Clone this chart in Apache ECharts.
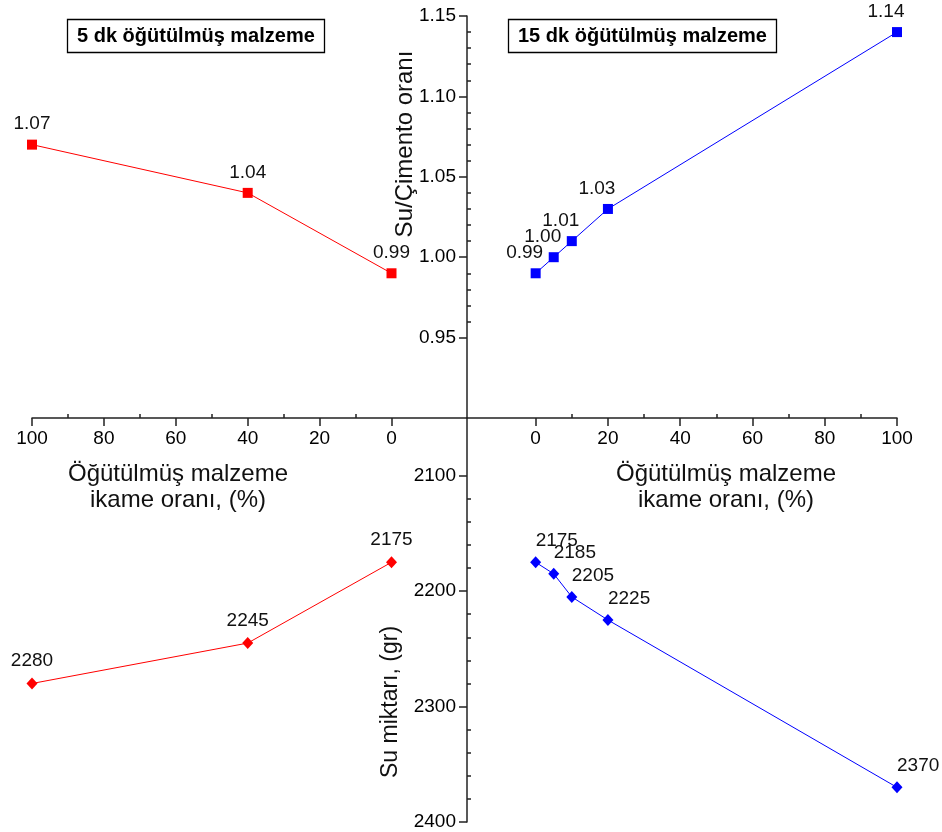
<!DOCTYPE html>
<html><head><meta charset="utf-8">
<script src="https://cdn.jsdelivr.net/npm/echarts@6/dist/echarts.min.js"></script>
<style>html,body{margin:0;padding:0;background:#fff}#c{width:942px;height:832px}</style>
</head><body><div id="c"></div>
<script>
// ---- data ----
const xTicks = [0, 20, 40, 60, 80, 100];
const xMinorTicks = [10, 30, 50, 70, 90];
const ratioTicks = [0.95, 1.00, 1.05, 1.10, 1.15];
const ratioMinorTicks = [0.96, 0.97, 0.98, 0.99, 1.01, 1.02, 1.03, 1.04, 1.06, 1.07, 1.08, 1.09, 1.11, 1.12, 1.13, 1.14];
const waterTicks = [2100, 2200, 2300, 2400];
const waterMinorTicks = [2120, 2140, 2160, 2180, 2220, 2240, 2260, 2280, 2320, 2340, 2360, 2380];

const x5 = [100, 40, 0];
const ratio5 = [1.07, 1.04, 0.99];
const water5 = [2280, 2245, 2175];

const x15 = [0, 5, 10, 20, 100];
const ratio15 = [0.99, 1.00, 1.01, 1.03, 1.14];
const water15 = [2175, 2185, 2205, 2225, 2370];

const title5 = '5 dk öğütülmüş malzeme';
const title15 = '15 dk öğütülmüş malzeme';
const xName = 'Öğütülmüş malzeme\nikame oranı, (%)';
const ratioName = 'Su/Çimento oranı';
const waterName = 'Su miktarı, (gr)';

// ---- chart ----
const FONT = '"Liberation Sans", Arial, sans-serif';
const AX = '#222';
const chart = echarts.init(document.getElementById('c'), null, {renderer: 'canvas'});

function mainX(grid, min, inverse) {
  return {
    type: 'value', gridIndex: grid, min: min, max: 100, inverse: inverse, position: 'bottom',
    axisLine: {show: true, onZero: false, lineStyle: {color: AX, width: 1.5}},
    axisTick: {show: true, customValues: xTicks, length: 8, lineStyle: {color: AX, width: 1.5}},
    axisLabel: {show: true, customValues: xTicks, margin: 11, fontSize: 19, fontFamily: FONT, color: '#000'},
    splitLine: {show: false}
  };
}
function minorX(grid, min, inverse) {
  return {
    type: 'value', gridIndex: grid, min: min, max: 100, inverse: inverse, position: 'bottom',
    axisLine: {show: false, onZero: false},
    axisTick: {show: true, inside: true, customValues: xMinorTicks, length: 4, lineStyle: {color: AX, width: 1.5}},
    axisLabel: {show: false}, splitLine: {show: false}
  };
}
function hiddenX(grid, min, inverse) {
  return {type: 'value', gridIndex: grid, min: min, max: 100, inverse: inverse, show: false, splitLine: {show: false}};
}

const option = {
  animation: false,
  backgroundColor: '#fff',
  title: [
    {text: title5, left: 67, top: 19, padding: [7, 10], borderColor: '#000', borderWidth: 1.3,
     textStyle: {fontFamily: FONT, fontSize: 20, fontWeight: 'bold', color: '#000'}},
    {text: title15, left: 508, top: 19, padding: [7, 10], borderColor: '#000', borderWidth: 1.3,
     textStyle: {fontFamily: FONT, fontSize: 20, fontWeight: 'bold', color: '#000'}}
  ],
  grid: [
    {left: 32, top: 16, width: 435, height: 402},
    {left: 467, top: 16, width: 430, height: 402},
    {left: 32, top: 418, width: 435, height: 404},
    {left: 467, top: 418, width: 430, height: 404}
  ],
  xAxis: [
    mainX(0, -21, true), minorX(0, -21, true),
    mainX(1, -19, false), minorX(1, -19, false),
    hiddenX(2, -21, true), hiddenX(3, -19, false)
  ],
  yAxis: [
    {type: 'value', gridIndex: 0, min: 0.90, max: 1.15, show: false, splitLine: {show: false}},
    {type: 'value', gridIndex: 1, min: 0.90, max: 1.15, position: 'left',
     axisLine: {show: true, onZero: false, lineStyle: {color: AX, width: 1.5}},
     axisTick: {show: true, customValues: ratioTicks, length: 8, lineStyle: {color: AX, width: 1.5}},
     axisLabel: {show: true, customValues: ratioTicks, margin: 11, fontSize: 19, fontFamily: FONT, color: '#000',
                 formatter: v => Number(v).toFixed(2)},
     splitLine: {show: false}},
    {type: 'value', gridIndex: 1, min: 0.90, max: 1.15, position: 'left',
     axisLine: {show: false, onZero: false},
     axisTick: {show: true, inside: true, customValues: ratioMinorTicks, length: 4, lineStyle: {color: AX, width: 1.5}},
     axisLabel: {show: false}, splitLine: {show: false}},
    {type: 'value', gridIndex: 2, min: 2050, max: 2400, inverse: true, show: false, splitLine: {show: false}},
    {type: 'value', gridIndex: 3, min: 2050, max: 2400, inverse: true, position: 'left',
     axisLine: {show: true, onZero: false, lineStyle: {color: AX, width: 1.5}},
     axisTick: {show: true, customValues: waterTicks, length: 8, lineStyle: {color: AX, width: 1.5}},
     axisLabel: {show: true, customValues: waterTicks, margin: 11, fontSize: 19, fontFamily: FONT, color: '#000',
                 formatter: v => String(v)},
     splitLine: {show: false}},
    {type: 'value', gridIndex: 3, min: 2050, max: 2400, inverse: true, position: 'left',
     axisLine: {show: false, onZero: false},
     axisTick: {show: true, inside: true, customValues: waterMinorTicks, length: 4, lineStyle: {color: AX, width: 1.5}},
     axisLabel: {show: false}, splitLine: {show: false}}
  ],
  series: [
    {type: 'line', xAxisIndex: 0, yAxisIndex: 0, clip: false,
     data: x5.map((x, i) => [x, ratio5[i]]),
     symbol: 'rect', symbolSize: 10, itemStyle: {color: '#ff0000'}, lineStyle: {color: '#ff0000', width: 1},
     label: {show: true, position: 'top', distance: 6, fontSize: 19, fontFamily: FONT, color: '#111',
             formatter: p => p.value[1].toFixed(2)}},
    {type: 'line', xAxisIndex: 2, yAxisIndex: 1, clip: false,
     data: x15.map((x, i) => [x, ratio15[i]]),
     symbol: 'rect', symbolSize: 10, itemStyle: {color: '#0000ff'}, lineStyle: {color: '#0000ff', width: 1},
     label: {show: true, position: 'top', distance: 6, offset: [-11, 0], fontSize: 19, fontFamily: FONT, color: '#111',
             formatter: p => p.value[1].toFixed(2)}},
    {type: 'line', xAxisIndex: 4, yAxisIndex: 3, clip: false,
     data: x5.map((x, i) => [x, water5[i]]),
     symbol: 'diamond', symbolSize: [11, 12], itemStyle: {color: '#ff0000'}, lineStyle: {color: '#ff0000', width: 1},
     label: {show: true, position: 'top', distance: 7, fontSize: 19, fontFamily: FONT, color: '#111',
             formatter: p => String(p.value[1])}},
    {type: 'line', xAxisIndex: 5, yAxisIndex: 4, clip: false,
     data: x15.map((x, i) => [x, water15[i]]),
     symbol: 'diamond', symbolSize: [11, 12], itemStyle: {color: '#0000ff'}, lineStyle: {color: '#0000ff', width: 1},
     label: {show: true, position: 'top', distance: 6, align: 'left', fontSize: 19, fontFamily: FONT, color: '#111',
             formatter: p => String(p.value[1])}}
  ],
  graphic: [
    {type: 'text', x: 178, y: 487, style: {text: xName, font: '24px ' + FONT, fill: '#111', align: 'center', verticalAlign: 'middle', lineHeight: 26}},
    {type: 'text', x: 726, y: 487, style: {text: xName, font: '24px ' + FONT, fill: '#111', align: 'center', verticalAlign: 'middle', lineHeight: 26}},
    {type: 'text', x: 405, y: 144, rotation: Math.PI / 2, style: {text: ratioName, font: '24px ' + FONT, fill: '#111', align: 'center', verticalAlign: 'middle'}},
    {type: 'text', x: 391, y: 702, rotation: Math.PI / 2, style: {text: waterName, font: '23px ' + FONT, fill: '#111', align: 'center', verticalAlign: 'middle'}}
  ]
};
chart.setOption(option);
</script>
</body></html>
